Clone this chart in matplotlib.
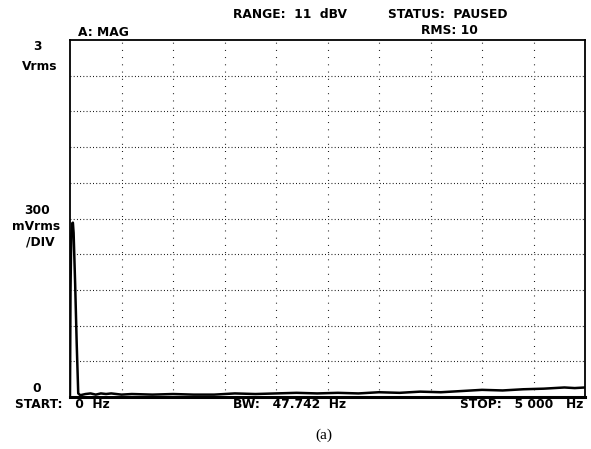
import matplotlib
matplotlib.use("Agg")
import matplotlib.pyplot as plt
import numpy as np

# Spectrum trace (Hz, Vrms)
freq_hz = [0, 5, 12, 22, 28, 35, 50, 65, 80, 100, 150, 200, 250, 300, 350, 400,
           500, 600, 800, 1000, 1200, 1400, 1600, 1800, 2000, 2200, 2400, 2600,
           2800, 3000, 3200, 3400, 3600, 3800, 4000, 4200, 4400, 4600, 4800,
           4900, 5000]
mag_vrms = [0.02, 0.90, 1.35, 1.46, 1.465, 1.38, 0.95, 0.45, 0.03, 0.015, 0.025,
            0.03, 0.02, 0.03, 0.025, 0.03, 0.02, 0.025, 0.02, 0.025, 0.02, 0.02,
            0.03, 0.025, 0.03, 0.035, 0.03, 0.035, 0.03, 0.04, 0.035, 0.045,
            0.04, 0.05, 0.06, 0.055, 0.065, 0.07, 0.08, 0.075, 0.08]

x_ticks = np.arange(0, 5001, 500)
y_ticks = np.arange(0, 3.01, 0.3)

W, H = 591, 449
fig = plt.figure(figsize=(W / 100, H / 100), dpi=100)
ax = fig.add_axes([70 / W, 1 - 397 / H, (585 - 70) / W, (397 - 40) / H])

ax.plot(freq_hz, mag_vrms, color="black", lw=1.8)
ax.set_xlim(0, 5000)
ax.set_ylim(0, 3)

# dotted graticule
for y in y_ticks[1:-1]:
    ax.axhline(y, color="black", lw=0.8, ls=(0, (0.8, 2.1)))
for x in x_ticks[1:-1]:
    ax.axvline(x, color="black", lw=0.8, ls=(0, (0.8, 5.7)))

ax.set_xticks([])
ax.set_yticks([])
for side in ["top", "left", "right"]:
    ax.spines[side].set_linewidth(1.3)
ax.spines["bottom"].set_linewidth(2.2)


def label(x, y, s, ha="left", **kw):
    opts = dict(fontsize=8.8, fontweight="bold", family="DejaVu Sans")
    opts.update(kw)
    fig.text(x / W, 1 - y / H, s, ha=ha, va="center", **opts)


label(233, 14, "RANGE:  11  dBV")
label(388, 14, "STATUS:  PAUSED")
label(78, 32, "A: MAG")
label(421, 31, "RMS: 10")
label(37, 47, "3", ha="center")
label(40, 67, "Vrms", ha="center")
label(37, 210, "300", ha="center")
label(36, 227, "mVrms", ha="center")
label(40, 242, "/DIV", ha="center")
label(37, 388, "0", ha="center")
label(15, 404, "START:   0  Hz")
label(233, 404, "BW:   47.742  Hz")
label(583, 404, "STOP:   5 000   Hz", ha="right")
label(324, 435, "(a)", ha="center", fontsize=11, fontweight="normal",
      family="Liberation Serif")

fig.savefig("out.png", dpi=100)
